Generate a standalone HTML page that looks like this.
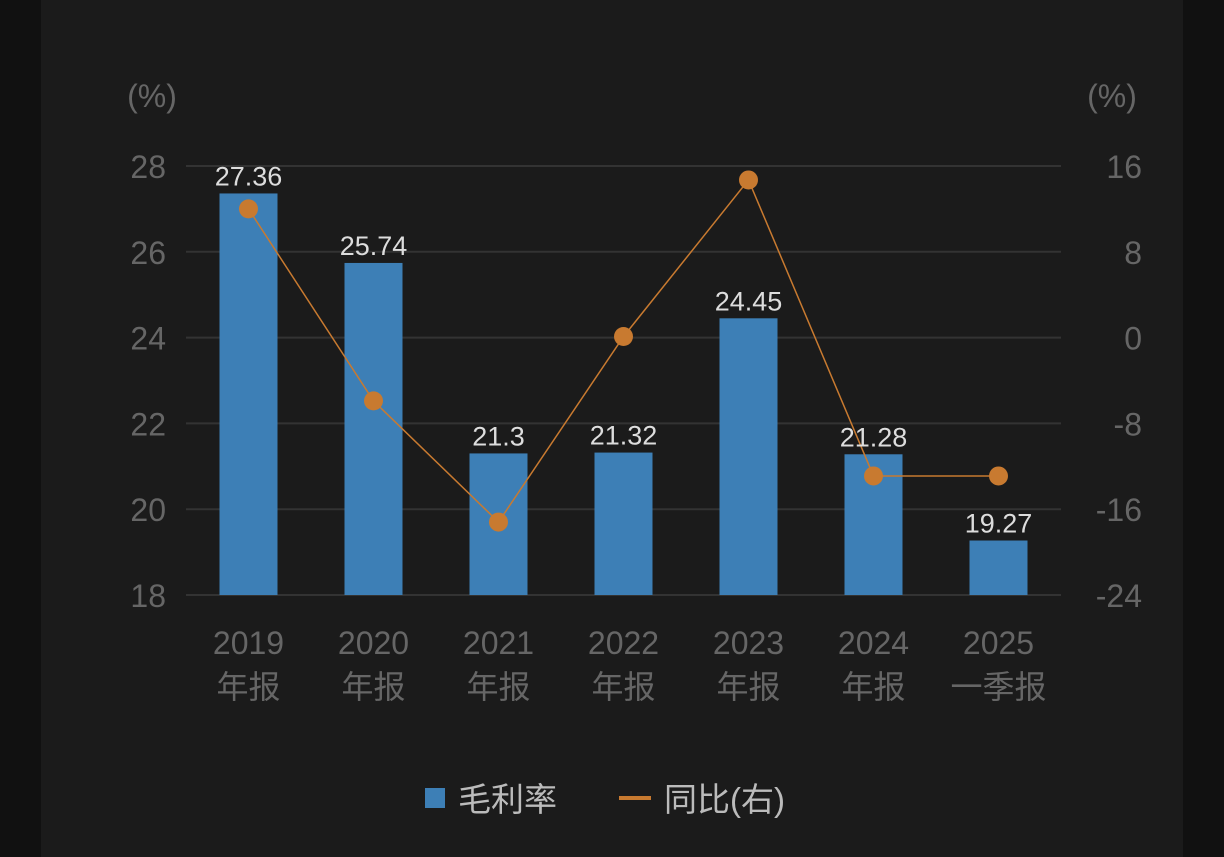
<!DOCTYPE html>
<html><head><meta charset="utf-8"><style>
html,body{margin:0;padding:0;background:#111;width:1224px;height:857px;overflow:hidden}
svg{display:block}
text{font-family:"Liberation Sans","Noto Sans CJK SC",sans-serif}
</style></head><body>
<svg width="1224" height="857">
<rect x="41" y="0" width="1142" height="857" fill="#1b1b1b"/>
<g id="grid"></g><g id="bars"></g><g id="line"></g><g id="labels"></g>
<text x="152" y="107" font-size="32" fill="#666" text-anchor="middle">(%)</text>
<text x="1112" y="107" font-size="32" fill="#666" text-anchor="middle">(%)</text>
<g>
<rect x="425" y="788" width="20" height="20" fill="#3d7fb6"/>
<text x="458" y="811" font-size="33" fill="#bbb">毛利率</text>
<rect x="619" y="796" width="32" height="4" fill="#c87a30"/>
<text x="664" y="811" font-size="33" fill="#bbb">同比(右)</text>
</g>
</svg>
<script>
const years=["2019","2020","2021","2022","2023","2024","2025"];
const periods=["年报","年报","年报","年报","年报","年报","一季报"];
const margin=[27.36,25.74,21.3,21.32,24.45,21.28,19.27];
const marginLabels=["27.36","25.74","21.3","21.32","24.45","21.28","19.27"];
const yoy=[12.0,-5.9,-17.2,0.1,14.7,-12.9,-12.9];
const leftTicks=[18,20,22,24,26,28];
const rightTicks=[-24,-16,-8,0,8,16];
const NS="http://www.w3.org/2000/svg";
const x0=186,x1=1061,yTop=166,yBot=595;
const step=(x1-x0)/years.length;
const xc=i=>x0+step*(i+0.5);
const yL=v=>yBot-(v-18)/(28-18)*(yBot-yTop);
const yR=v=>yBot-(v+24)/(16+24)*(yBot-yTop);
function mk(t,a,p){const e=document.createElementNS(NS,t);for(const k in a)e.setAttribute(k,a[k]);p.appendChild(e);return e;}
const g=document.getElementById('grid'),b=document.getElementById('bars'),l=document.getElementById('line'),lb=document.getElementById('labels');
leftTicks.forEach((v,i)=>{
 const ln=mk('line',{x1:x0,x2:x1,y1:yL(v),y2:yL(v),stroke:'#333','stroke-width':2},g);
 
 
 const t=mk('text',{x:166,y:yL(v)+12,'font-size':32,fill:'#666','text-anchor':'end'},g);t.textContent=v;
 
 
});
rightTicks.forEach(v=>{
 const t=mk('text',{x:1142,y:yR(v)+12,'font-size':32,fill:'#666','text-anchor':'end'},g);t.textContent=v;
 
 
});
margin.forEach((v,i)=>{
 const r=mk('rect',{x:xc(i)-29,y:yL(v),width:58,height:yBot-yL(v),fill:'#3d7fb6'},b);
 
 
 const t=mk('text',{x:xc(i),y:yL(v)-8,'font-size':27,fill:'#ddd','text-anchor':'middle'},lb);t.textContent=marginLabels[i];
 
 
 const a=mk('text',{x:xc(i),y:654,'font-size':32,fill:'#666','text-anchor':'middle'},lb);a.textContent=years[i];
 
 
 const c=mk('text',{x:xc(i),y:698,'font-size':32,fill:'#666','text-anchor':'middle'},lb);c.textContent=periods[i];
 
 
});
const pl=mk('polyline',{points:yoy.map((v,i)=>xc(i)+','+yR(v)).join(' '),fill:'none',stroke:'#c87a30','stroke-width':1.5},l);


yoy.forEach((v,i)=>{
 const c=mk('circle',{cx:xc(i),cy:yR(v),r:9.5,fill:'#c87a30'},l);
 
 
});
</script>
</body></html>
